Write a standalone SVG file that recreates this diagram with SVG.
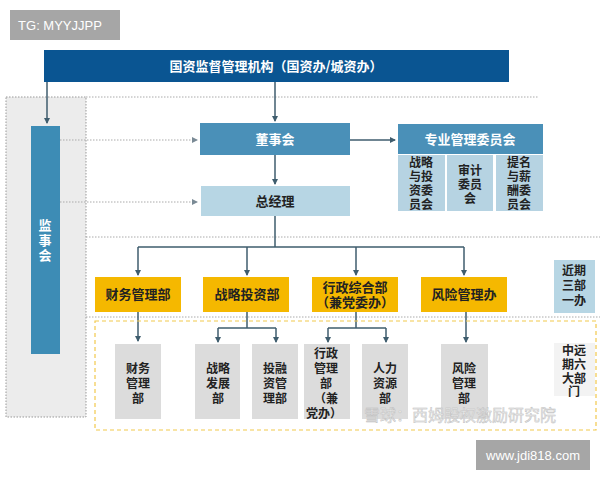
<svg xmlns="http://www.w3.org/2000/svg" width="600" height="480" viewBox="0 0 600 480">
<defs>
<marker id="a" markerWidth="6" markerHeight="6" refX="5" refY="3" orient="auto" markerUnits="userSpaceOnUse"><path d="M0,0 L6,3 L0,6 z" fill="#3f5d6e"/></marker>
<marker id="g" markerWidth="6" markerHeight="6" refX="5" refY="3" orient="auto" markerUnits="userSpaceOnUse"><path d="M0,0 L6,3 L0,6 z" fill="#7a8a95"/></marker>
</defs>
<style>
text{font-family:"Noto Sans CJK SC","Liberation Sans",sans-serif;font-weight:bold;text-anchor:middle}
.w{fill:#fff;font-size:13px}
.k{fill:#222;font-size:13px}
.s{fill:#222;font-size:12px}
.c{stroke:#3f5d6e;stroke-width:1.5;fill:none}
.d{stroke:#aaa;stroke-width:1;stroke-dasharray:1.5 1.5;fill:none}
.gray{fill:#dcdcdc}
</style>
<rect width="600" height="480" fill="#fff"/>
<rect x="6" y="97" width="80" height="320" fill="#ececec" stroke="#999" stroke-dasharray="1.5 1.5"/>
<g id="wm1"><rect x="10" y="10" width="110" height="30" fill="#a6a6a6"/><text x="60" y="30" style="fill:#fff;font-family:'Liberation Sans',sans-serif;font-weight:normal;font-size:13px">TG: MYYJJPP</text></g>
<g id="connectors">
<path class="d" d="M86 97 H538 M86 237 H600 M86 317 H600"/>
<path class="d" d="M60 140 H197" marker-end="url(#g)"/>
<path class="d" d="M60 202 H197" marker-end="url(#g)"/>
<path class="c" d="M47 82 V123" marker-end="url(#a)"/>
<path class="c" d="M275 82 V121" marker-end="url(#a)"/>
<path class="c" d="M350 140 H395" marker-end="url(#a)"/>
<path class="c" d="M275 155 V184" marker-end="url(#a)"/>
<path class="c" d="M275 216 V247 M138 247 H464"/>
<path class="c" d="M138 247 V275" marker-end="url(#a)"/>
<path class="c" d="M247 247 V275" marker-end="url(#a)"/>
<path class="c" d="M356 247 V275" marker-end="url(#a)"/>
<path class="c" d="M464 247 V275" marker-end="url(#a)"/>
<path class="c" d="M138 312 V341" marker-end="url(#a)"/>
<path class="c" d="M247 312 V328 M218 328 H276"/>
<path class="c" d="M218 328 V342" marker-end="url(#a)"/>
<path class="c" d="M276 328 V342" marker-end="url(#a)"/>
<path class="c" d="M356 312 V328 M328 328 H386"/>
<path class="c" d="M328 328 V342" marker-end="url(#a)"/>
<path class="c" d="M386 328 V342" marker-end="url(#a)"/>
<path class="c" d="M466 312 V342" marker-end="url(#a)"/>
</g>
<rect x="95" y="321" width="501" height="109" fill="none" stroke="#f2c94c" stroke-width="1.2" stroke-dasharray="4 3"/>
<g id="top"><rect x="44" y="50" width="465" height="32" fill="#0a5592"/><text class="w" x="276" y="71">国资监督管理机构（国资办/城资办）</text></g>
<g id="jsh"><rect x="31" y="126" width="29" height="228" fill="#3d8cb5"/><text class="w" x="45" y="230">监</text><text class="w" x="45" y="245">事</text><text class="w" x="45" y="260">会</text></g>
<g id="dsh"><rect x="200" y="123" width="150" height="32" fill="#4a90b8"/><text class="w" x="275" y="144">董事会</text></g>
<g id="zy"><rect x="398" y="124" width="145" height="30" fill="#4a90b8"/><text class="w" x="470" y="144">专业管理委员会</text></g>
<g id="zy1"><rect x="398" y="155" width="47" height="56" fill="#b6d3e2"/><text class="s" x="421" y="167">战略</text><text class="s" x="421" y="181">与投</text><text class="s" x="421" y="195">资委</text><text class="s" x="421" y="209">员会</text></g>
<g id="zy2"><rect x="447" y="155" width="46" height="56" fill="#b6d3e2"/><text class="s" x="470" y="175">审计</text><text class="s" x="470" y="189">委员</text><text class="s" x="470" y="203">会</text></g>
<g id="zy3"><rect x="496" y="155" width="47" height="56" fill="#b6d3e2"/><text class="s" x="519" y="167">提名</text><text class="s" x="519" y="181">与薪</text><text class="s" x="519" y="195">酬委</text><text class="s" x="519" y="209">员会</text></g>
<g id="zjl"><rect x="201" y="186" width="149" height="30" fill="#b7d6e4"/><text class="k" x="275" y="206">总经理</text></g>
<g id="y1"><rect x="95" y="277" width="86" height="35" fill="#f5b800"/><text class="k" x="138" y="299">财务管理部</text></g>
<g id="y2"><rect x="203" y="277" width="86" height="35" fill="#f5b800"/><text class="k" x="247" y="299">战略投资部</text></g>
<g id="y3"><rect x="312" y="277" width="86" height="35" fill="#f5b800"/><text class="k" x="355" y="292">行政综合部</text><text class="k" x="355" y="307">（兼党委办）</text></g>
<g id="y4"><rect x="421" y="277" width="86" height="35" fill="#f5b800"/><text class="k" x="464" y="299">风险管理办</text></g>
<g id="jq"><rect x="554" y="260" width="41" height="53" fill="#b7d6e4"/><text class="s" x="574" y="275">近期</text><text class="s" x="574" y="290">三部</text><text class="s" x="574" y="305">一办</text></g>
<g id="zq"><rect x="554" y="343" width="41" height="53" fill="#f3f3f3"/><text class="s" x="574" y="355">中远</text><text class="s" x="574" y="369">期六</text><text class="s" x="574" y="383">大部</text><text class="s" x="574" y="396">门</text></g>
<g id="b1"><rect x="115" y="344" width="46" height="75" class="gray"/><text class="s" x="138" y="373">财务</text><text class="s" x="138" y="388">管理</text><text class="s" x="138" y="403">部</text></g>
<g id="b2"><rect x="195" y="344" width="45" height="75" class="gray"/><text class="s" x="218" y="373">战略</text><text class="s" x="218" y="388">发展</text><text class="s" x="218" y="403">部</text></g>
<g id="b3"><rect x="252" y="344" width="46" height="75" class="gray"/><text class="s" x="275" y="373">投融</text><text class="s" x="275" y="388">资管</text><text class="s" x="275" y="403">理部</text></g>
<g id="b4"><rect x="304" y="344" width="46" height="75" class="gray"/><text class="s" x="326" y="358">行政</text><text class="s" x="326" y="373">管理</text><text class="s" x="326" y="388">部</text><text class="s" x="326" y="403">（兼</text><text class="s" x="324" y="418">党办）</text></g>
<g id="b5"><rect x="362" y="344" width="46" height="75" class="gray"/><text class="s" x="385" y="373">人力</text><text class="s" x="385" y="388">资源</text><text class="s" x="385" y="403">部</text></g>
<g id="b6"><rect x="441" y="344" width="47" height="75" class="gray"/><text class="s" x="464" y="373">风险</text><text class="s" x="464" y="388">管理</text><text class="s" x="464" y="403">部</text></g>
<text x="460" y="421" style="fill:#e8e8e8;stroke:#bbb;stroke-width:0.4;font-size:16px;font-weight:normal">雪球：西姆股权激励研究院</text>
<g id="wm2"><rect x="476" y="440" width="114" height="30" fill="#a6a6a6"/><text x="533" y="460" style="fill:#fff;font-family:'Liberation Sans',sans-serif;font-weight:normal;font-size:13px">www.jdi818.com</text></g>
</svg>
